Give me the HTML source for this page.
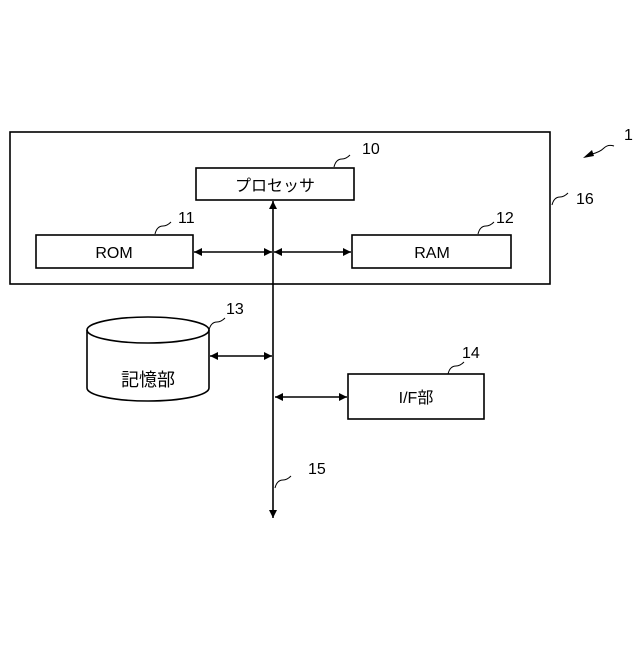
<!DOCTYPE html>
<html><head><style>body{margin:0;background:#fff}</style></head><body>
<svg width="640" height="640" xmlns="http://www.w3.org/2000/svg" font-family="'Liberation Sans','Noto Sans CJK JP',sans-serif">
<defs><marker id="a" viewBox="0 0 10 10" refX="10" refY="5" markerWidth="10" markerHeight="8" markerUnits="userSpaceOnUse" orient="auto-start-reverse"><path d="M0,0L10,5L0,10z" fill="#000"/></marker></defs>
<g fill="none" stroke="#000" stroke-width="1.6">
<rect x="10" y="132" width="540" height="152"/>
<rect x="196" y="168" width="158" height="32"/>
<rect x="36" y="235" width="157" height="33"/>
<rect x="352" y="235" width="159" height="33"/>
<rect x="348" y="374" width="136" height="45"/>
<path d="M87,330 L87,388 A61,13 0 0 0 209,388 L209,330"/>
<ellipse cx="148" cy="330" rx="61" ry="13"/>
<line x1="273" y1="201" x2="273" y2="518" marker-start="url(#a)" marker-end="url(#a)"/>
<line x1="194" y1="252" x2="272" y2="252" marker-start="url(#a)" marker-end="url(#a)"/>
<line x1="274" y1="252" x2="351" y2="252" marker-start="url(#a)" marker-end="url(#a)"/>
<line x1="210" y1="356" x2="272" y2="356" marker-start="url(#a)" marker-end="url(#a)"/>
<line x1="275" y1="397" x2="347" y2="397" marker-start="url(#a)" marker-end="url(#a)"/>
<g stroke-width="1">
<path d="M334,167 q2,-8 8,-8 q4,0 8,-4"/>
<path d="M155,234 q2,-8 8,-8 q4,0 8,-4"/>
<path d="M478,234 q2,-8 8,-8 q4,0 8,-4"/>
<path d="M552,205 q2,-8 8,-8 q4,0 8,-4"/>
<path d="M209,330 q2,-8 8,-8 q4,0 8,-4"/>
<path d="M448,374 q2,-8 8,-8 q4,0 8,-4"/>
<path d="M275,488 q2,-8 8,-8 q4,0 8,-4"/>
<path d="M592,154 q8,-2 12,-6 q4,-4 10,-2"/>
</g></g>
<path d="M583,158 l9,-8 l2,6z" fill="#000"/>
<g font-size="16" fill="#000">
<text x="275" y="191" text-anchor="middle">プロセッサ</text>
<text x="114" y="258" text-anchor="middle">ROM</text>
<text x="432" y="258" text-anchor="middle">RAM</text>
<text x="148" y="386" text-anchor="middle" font-size="18">記憶部</text>
<text x="416" y="403" text-anchor="middle">I/F部</text>
<text x="362" y="154">10</text>
<text x="178" y="223">11</text>
<text x="496" y="223">12</text>
<text x="226" y="314">13</text>
<text x="462" y="358">14</text>
<text x="308" y="474">15</text>
<text x="576" y="204">16</text>
<text x="624" y="140">1</text>
</g>
</svg>
</body></html>
